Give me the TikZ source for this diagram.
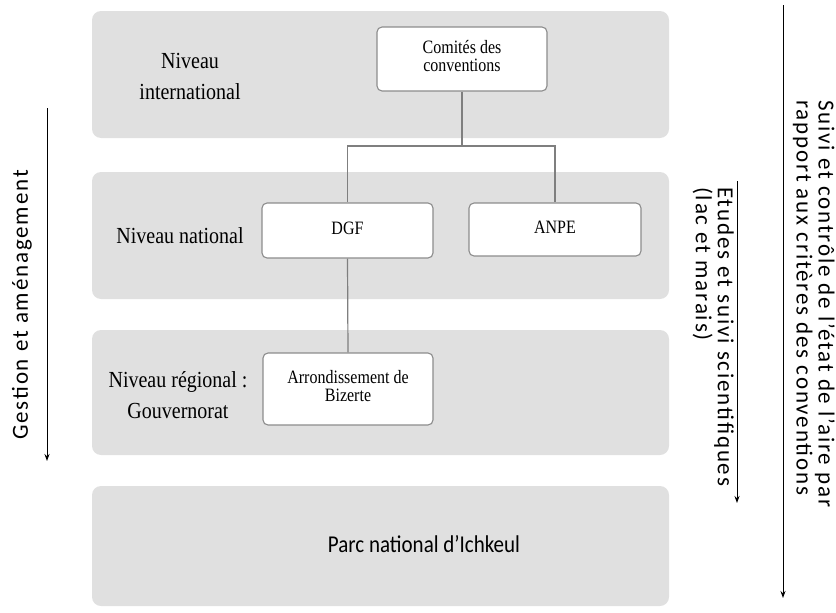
\documentclass[tikz,border=0pt]{standalone}
\usepackage{graphicx}
\usepackage{fontspec}
\setmainfont{Liberation Serif}
\newfontfamily\calib{Carlito}
\newfontfamily\calibsp[LetterSpace=8]{Carlito}
\usetikzlibrary{arrows.meta}
\definecolor{panelgray}{HTML}{E0E0E0}
\definecolor{boxline}{HTML}{8C8C8C}
\definecolor{connline}{HTML}{7F7F7F}
\newcommand{\talltext}[2][1.18]{\scalebox{1}[#1]{\begin{tabular}{@{}c@{}}#2\end{tabular}}}
\begin{document}
\begin{tikzpicture}[x=1pt,y=-1pt,
  panel/.style={fill=panelgray, draw=none, rounded corners=9pt, inner sep=0pt},
  orgbox/.style={fill=white, draw=boxline, line width=1.1pt, rounded corners=5pt, align=center,
     inner sep=2pt, font=\fontsize{16}{15.5}\selectfont},
  levellabel/.style={align=center, inner sep=0pt, font=\fontsize{20}{27}\selectfont},
  conn/.style={draw=connline, line width=1.2pt},
  flowarrow/.style={draw=black, line width=0.9pt, -{Stealth[length=7pt,width=5pt]}},
  sidetext/.style={inner sep=0pt, align=left, font=\calibsp\fontsize{23}{22}\selectfont}
]
\useasboundingbox (0,0) rectangle (836,613);

% panels
\node[panel, minimum width=577pt, minimum height=127pt] (p1) at (380.5,74.5) {};
\node[panel, minimum width=577pt, minimum height=127pt] (p2) at (380.5,235.5) {};
\node[panel, minimum width=577pt, minimum height=125pt] (p3) at (380.5,392.5) {};
\node[panel, minimum width=577pt, minimum height=120pt] (p4) at (380.5,546) {};

% level labels
\node[levellabel] (l1) at (190,78) {\talltext[1.15]{Niveau\\international}};
\node[levellabel] (l2) at (180,237) {\talltext[1.15]{Niveau national}};
\node[levellabel] (l3) at (178,397) {\talltext[1.15]{Niveau régional :\\Gouvernorat}};
\node[inner sep=0pt, font=\calib\fontsize{21}{24}\selectfont] (parc) at (424,544) {\scalebox{1}[1.15]{Parc national d’Ichkeul}};

% org boxes
\node[orgbox, minimum width=170pt, minimum height=64pt] (com) at (462,59) {\talltext{Comités des\\conventions}};
\node[orgbox, minimum width=171pt, minimum height=55pt] (dgf) at (347.5,230.5) {\talltext{DGF}};
\node[orgbox, minimum width=172pt, minimum height=53pt] (anpe) at (555,229.5) {\talltext{ANPE}};
\node[orgbox, minimum width=170pt, minimum height=72pt] (arr) at (348,389) {\talltext{Arrondissement de\\Bizerte}};

% connectors
\coordinate (j) at (462,146);
\draw[conn] (com.south) -- (j);
\draw[conn] (dgf.north) |- (j) -| (anpe.north);
\draw[conn] (dgf.south) -- (arr.north);

% side arrows
\coordinate (g1) at (47,108);
\coordinate (g2) at (47,461);
\draw[flowarrow] (g1) -- (g2);
\node[sidetext, rotate=90] (gt) at (22,305) {Gestion et aménagement};

\coordinate (s1) at (783,5);
\coordinate (s2) at (783,598);
\draw[flowarrow] (s1) -- (s2);
\node[sidetext, rotate=-90, anchor=north west] (st) at (835,100) {Suivi et contrôle de l’état de l’aire par\\rapport aux critères des conventions};

\coordinate (e1) at (737,181);
\coordinate (e2) at (737,503);
\draw[flowarrow] (e1) -- (e2);
\node[sidetext, rotate=-90, anchor=north west] (et) at (734,187) {Etudes et suivi scientifiques\\(lac et marais)};
\end{tikzpicture}
\end{document}
